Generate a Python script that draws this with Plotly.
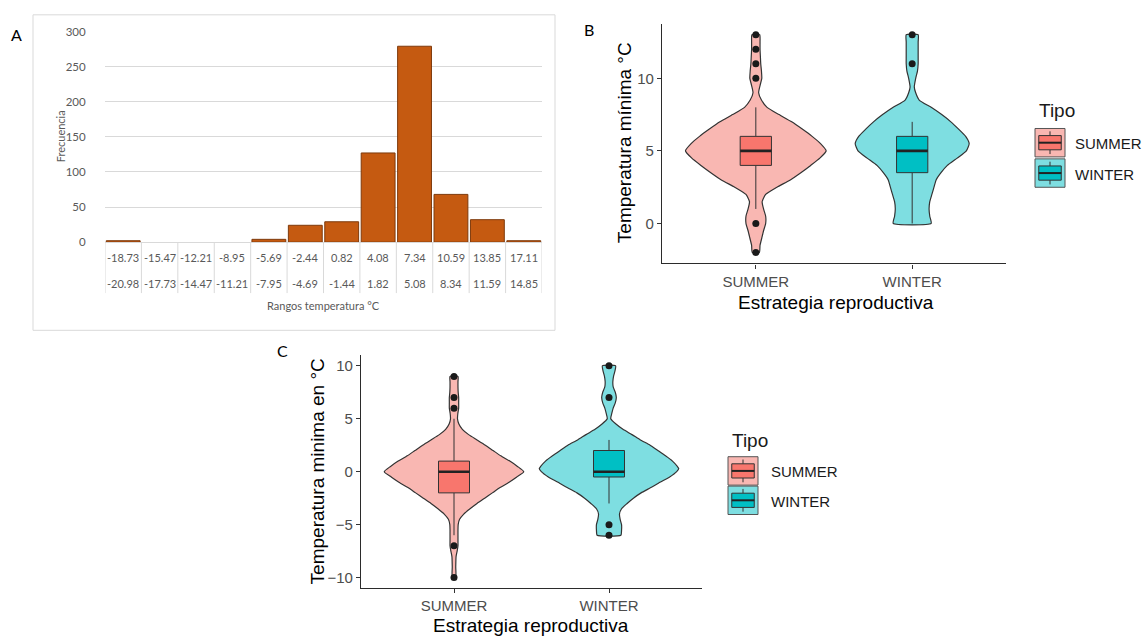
import numpy as np
import plotly.graph_objects as go

W, H = 1148, 642

# ---------------- Panel A: frequency of minimum-temperature ranges ----------------
bin_upper = ["-18.73", "-15.47", "-12.21", "-8.95", "-5.69", "-2.44",
             "0.82", "4.08", "7.34", "10.59", "13.85", "17.11"]
bin_lower = ["-20.98", "-17.73", "-14.47", "-11.21", "-7.95", "-4.69",
             "-1.44", "1.82", "5.08", "8.34", "11.59", "14.85"]
frecuencia = [2, 0, 0, 0, 4, 24, 29, 127, 279, 68, 32, 2]

# ---------------- Panels B and C: violin + box by strategy ----------------
tipos = ["SUMMER", "WINTER"]

# Violin outlines: temperature grid and relative density (1 = widest violin)
b_summer_t = [-2, -1.5, -1, -0.5, 0, 0.5, 1, 1.5, 2, 2.5, 3, 3.5, 4, 4.5, 5, 5.5,
              6, 6.5, 7, 7.5, 8, 8.5, 9, 9.5, 10, 10.5, 11, 11.5, 12, 12.5, 13]
b_summer_d = [0.05, 0.06, 0.085, 0.11, 0.14, 0.14, 0.11, 0.09, 0.14, 0.30, 0.49, 0.64,
              0.78, 0.91, 1.00, 0.92, 0.80, 0.66, 0.51, 0.33, 0.16, 0.08, 0.04, 0.06,
              0.085, 0.08, 0.07, 0.065, 0.06, 0.06, 0.055]
b_winter_t = [0, 0.5, 1, 1.5, 2, 2.5, 3, 3.5, 4, 4.5, 5, 5.5, 6, 6.5, 7, 7.5, 8,
              8.5, 9, 9.4, 10, 10.5, 11, 11.5, 12, 12.5, 13]
b_winter_d = [0.27, 0.25, 0.24, 0.25, 0.28, 0.31, 0.34, 0.41, 0.50, 0.64, 0.77, 0.81,
              0.76, 0.66, 0.55, 0.42, 0.27, 0.10, 0.05, 0.03, 0.05, 0.075, 0.085,
              0.085, 0.085, 0.085, 0.085]
c_summer_t = [-10, -9, -8, -7.5, -7, -6.5, -6, -5.5, -5, -4.5, -4, -3.5, -3, -2.5,
              -2, -1.5, -1, -0.5, 0, 0.5, 1, 1.5, 2, 2.5, 3, 3.5, 4, 4.5, 5, 5.5,
              6, 6.5, 7, 7.5, 8, 8.5, 9]
c_summer_d = [0.025, 0.025, 0.03, 0.045, 0.057, 0.057, 0.057, 0.057, 0.06, 0.08, 0.14,
              0.23, 0.33, 0.44, 0.55, 0.66, 0.79, 0.90, 1.00, 0.91, 0.80, 0.67, 0.56,
              0.45, 0.33, 0.21, 0.12, 0.07, 0.05, 0.055, 0.067, 0.067, 0.067, 0.06,
              0.057, 0.057, 0.057]
c_winter_t = [-6, -5.5, -5, -4.5, -4, -3.5, -3, -2.5, -2, -1.5, -1, -0.5, 0, 0.3,
              0.5, 1, 1.5, 2, 2.5, 3, 3.5, 4, 4.5, 5, 5.5, 6, 6.5, 7, 7.5, 8, 8.5,
              9, 9.5, 10]
c_winter_d = [0.17, 0.18, 0.18, 0.16, 0.15, 0.18, 0.26, 0.35, 0.46, 0.60, 0.73, 0.87,
              0.97, 1.00, 0.98, 0.91, 0.81, 0.70, 0.59, 0.45, 0.33, 0.20, 0.10, 0.025,
              0.04, 0.06, 0.09, 0.105, 0.09, 0.06, 0.055, 0.065, 0.085, 0.095]

# Box statistics per strategy (SUMMER, WINTER)
b_q1, b_med, b_q3, b_lo, b_hi = [4, 3.5], [5, 5], [6, 6], [1, 0], [8, 7]
b_outliers = [[13, 12, 11, 10, 0, -2], [13, 11]]
c_q1, c_med, c_q3, c_lo, c_hi = [-2, -0.5], [0, 0], [1, 2], [-6, -3], [5, 3]
c_outliers = [[9, 7, 6, -7, -10], [10, 7, -5, -6]]

violin_fill = ["#F9B7B2", "#7EDEE1"]
box_fill = ["#F8766D", "#00BFC4"]
EDGE = "#333333"
GG_FONT = "Liberation Sans, Arial, sans-serif"
XL_FONT = "Lato, Open Sans, sans-serif"


def px(x):
    return x / W


def py(y):
    return 1 - y / H


fig = go.Figure()

# ---- histogram bars (empty bins get no outline) ----
fig.add_trace(go.Bar(
    x=list(range(len(frecuencia))), y=frecuencia, width=0.93,
    marker=dict(color="#C55A11",
                line=dict(color="#7E3A0C",
                          width=[1 if v > 0 else 0 for v in frecuencia])),
    xaxis="x", yaxis="y", showlegend=False, hoverinfo="skip"))


def add_violin_panel(xa, ya, profiles, q1, med, q3, lo, hi, outliers):
    half_max = 0.45
    for i, (t, d) in enumerate(profiles):
        c = i + 1
        t = np.asarray(t, float)
        hw = np.asarray(d, float) * half_max
        xs = np.concatenate([c + hw, (c - hw)[::-1], [c + hw[0]]])
        ys = np.concatenate([t, t[::-1], [t[0]]])
        fig.add_trace(go.Scatter(
            x=xs, y=ys, mode="lines", fill="toself", fillcolor=violin_fill[i],
            line=dict(color=EDGE, width=1.2, shape="spline", smoothing=0.5),
            xaxis=xa, yaxis=ya, showlegend=False, hoverinfo="skip"))
    bw = 0.1
    for i in range(2):
        c = i + 1
        # whiskers
        fig.add_trace(go.Scatter(
            x=[c, c, None, c, c], y=[lo[i], q1[i], None, q3[i], hi[i]],
            mode="lines", line=dict(color=EDGE, width=1),
            xaxis=xa, yaxis=ya, showlegend=False, hoverinfo="skip"))
        # box body
        fig.add_trace(go.Scatter(
            x=[c - bw, c + bw, c + bw, c - bw, c - bw],
            y=[q1[i], q1[i], q3[i], q3[i], q1[i]],
            mode="lines", fill="toself", fillcolor=box_fill[i],
            line=dict(color=EDGE, width=1),
            xaxis=xa, yaxis=ya, showlegend=False, hoverinfo="skip"))
        # median
        fig.add_trace(go.Scatter(
            x=[c - bw, c + bw], y=[med[i], med[i]], mode="lines",
            line=dict(color="#222222", width=2.6),
            xaxis=xa, yaxis=ya, showlegend=False, hoverinfo="skip"))
        # outliers
        fig.add_trace(go.Scatter(
            x=[c] * len(outliers[i]), y=outliers[i], mode="markers",
            marker=dict(color="#1A1A1A", size=7),
            xaxis=xa, yaxis=ya, showlegend=False, hoverinfo="skip"))


add_violin_panel("x2", "y2", [(b_summer_t, b_summer_d), (b_winter_t, b_winter_d)],
                 b_q1, b_med, b_q3, b_lo, b_hi, b_outliers)
add_violin_panel("x3", "y3", [(c_summer_t, c_summer_d), (c_winter_t, c_winter_d)],
                 c_q1, c_med, c_q3, c_lo, c_hi, c_outliers)

gg_x = dict(range=[0.4, 2.6], tickvals=[1, 2], ticktext=tipos, showline=True,
            linecolor="#2B2B2B", linewidth=1.2, ticks="outside", ticklen=4,
            tickcolor="#333333", tickwidth=1, showgrid=False, zeroline=False,
            tickfont=dict(family=GG_FONT, size=15, color="#4D4D4D"), fixedrange=True)
gg_y = dict(showline=True, linecolor="#2B2B2B", linewidth=1.2, ticks="outside",
            ticklen=4, tickcolor="#333333", tickwidth=1, showgrid=False,
            zeroline=False, tickfont=dict(family=GG_FONT, size=15, color="#4D4D4D"),
            fixedrange=True)

fig.update_layout(
    width=W, height=H, margin=dict(l=0, r=0, t=0, b=0),
    paper_bgcolor="white", plot_bgcolor="rgba(0,0,0,0)", showlegend=False,
    xaxis=dict(domain=[px(105), px(542)], range=[-0.5, 11.5], showticklabels=False,
               showgrid=False, zeroline=False, showline=True, linecolor="#D9D9D9",
               linewidth=1, anchor="y", fixedrange=True),
    yaxis=dict(domain=[py(240), py(25)], range=[0, 300], dtick=50, showgrid=True,
               gridcolor="#D9D9D9", gridwidth=1, zeroline=False, showline=False,
               ticks="outside", ticklen=16, tickcolor="rgba(0,0,0,0)",
               tickfont=dict(family=XL_FONT, size=11.5, color="#595959"),
               anchor="x", fixedrange=True),
    xaxis2=dict(domain=[px(662), px(1006)], anchor="y2", **gg_x),
    yaxis2=dict(domain=[py(261.7), py(17.2)], range=[-2.75, 13.75],
                tickvals=[0, 5, 10], anchor="x2", **gg_y),
    xaxis3=dict(domain=[px(361), px(702)], anchor="y3", **gg_x),
    yaxis3=dict(domain=[py(593.2), py(355.4)], range=[-11, 11],
                tickvals=[-10, -5, 0, 5, 10], anchor="x3", **gg_y),
)

annotations = []
shapes = []


def text(x, y, s, size, color="#000000", family=GG_FONT, angle=0, xanchor="center"):
    annotations.append(dict(x=px(x), y=py(y), xref="paper", yref="paper", text=s,
                            showarrow=False, textangle=angle, xanchor=xanchor,
                            yanchor="middle",
                            font=dict(family=family, size=size, color=color)))


# Panel A: two-row category labels with cell dividers
for i, (up, low) in enumerate(zip(bin_upper, bin_lower)):
    annotations.append(dict(x=i, y=py(256), xref="x", yref="paper", text=up,
                            showarrow=False, yanchor="middle",
                            font=dict(family=XL_FONT, size=11, color="#595959")))
    annotations.append(dict(x=i, y=py(282), xref="x", yref="paper", text=low,
                            showarrow=False, yanchor="middle",
                            font=dict(family=XL_FONT, size=11, color="#595959")))
for i in range(len(bin_upper) + 1):
    shapes.append(dict(type="line", xref="x", yref="paper", x0=i - 0.5, x1=i - 0.5,
                       y0=py(240), y1=py(292), line=dict(color="#D9D9D9", width=1)))
shapes.append(dict(type="rect", xref="paper", yref="paper", x0=px(33), x1=px(555),
                   y0=py(330), y1=py(8), line=dict(color="#D9D9D9", width=1)))
text(60, 132, "Frecuencia", 11, "#595959", XL_FONT, -90)
text(323, 305, "Rangos temperatura °C", 11, "#595959", XL_FONT)

# Panel letters
text(16, 28, "A", 16, "#000000", XL_FONT)
text(589, 23, "B", 16, "#000000", XL_FONT)
text(282, 351, "C", 16, "#000000", XL_FONT)

# Axis titles for B and C
text(836, 302, "Estrategia reproductiva", 19)
text(624, 139, "Temperatura mínima °C", 19, angle=-90)
text(531, 631, "Estrategia reproductiva", 19)
text(317, 474, "Temperatura minima en °C", 19, angle=-90)


def legend(x0, y_title, y_keys, xlab):
    text(x0 + 2, y_title, "Tipo", 19, "#1A1A1A", xanchor="left")
    w, h = 30, 29
    for i, ky in enumerate(y_keys):
        shapes.append(dict(type="rect", xref="paper", yref="paper",
                           x0=px(x0), x1=px(x0 + w), y0=py(ky + h), y1=py(ky),
                           fillcolor=violin_fill[i], line=dict(color="#555555", width=1)))
        cx = x0 + w / 2
        for a, b in [(0.1, 0.25), (0.75, 0.9)]:
            shapes.append(dict(type="line", xref="paper", yref="paper",
                               x0=px(cx), x1=px(cx), y0=py(ky + a * h), y1=py(ky + b * h),
                               line=dict(color=EDGE, width=1)))
        shapes.append(dict(type="rect", xref="paper", yref="paper",
                           x0=px(x0 + 0.125 * w), x1=px(x0 + 0.875 * w),
                           y0=py(ky + 0.75 * h), y1=py(ky + 0.25 * h),
                           fillcolor=box_fill[i], line=dict(color=EDGE, width=1)))
        shapes.append(dict(type="line", xref="paper", yref="paper",
                           x0=px(x0 + 0.125 * w), x1=px(x0 + 0.875 * w),
                           y0=py(ky + 0.5 * h), y1=py(ky + 0.5 * h),
                           line=dict(color="#222222", width=2)))
        text(xlab, ky + h / 2 + 1, tipos[i], 15, "#1A1A1A", xanchor="left")


legend(1035, 106, [124, 155], 1073)
legend(728, 442, [459, 489], 769)

fig.update_layout(annotations=annotations, shapes=shapes)
fig.write_html("out.html")
